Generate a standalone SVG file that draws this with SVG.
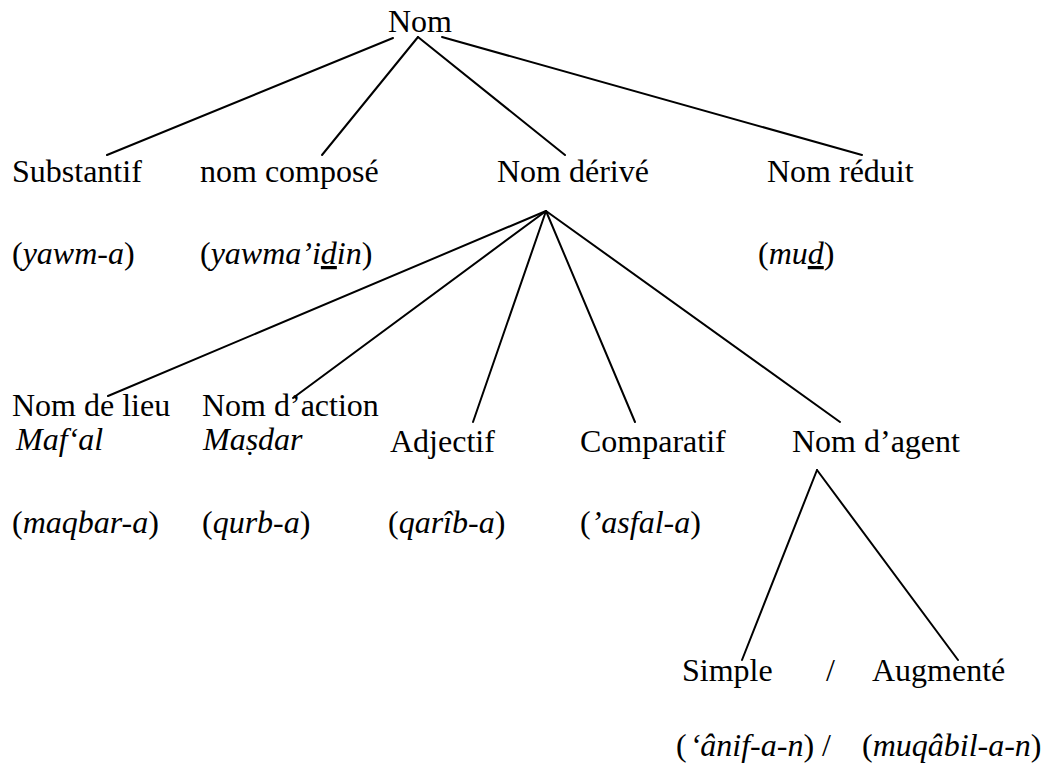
<svg xmlns="http://www.w3.org/2000/svg" width="1055" height="771" viewBox="0 0 1055 771">
<style>
text{font-family:'Liberation Serif','Times New Roman',Times,serif;font-size:32px;fill:#000}
.i{font-style:italic}
.u{text-decoration:underline}
.c line{stroke:#000;stroke-width:2;stroke-linecap:round}
</style>
<rect width="1055" height="771" fill="#fff"/>
<g class="c" id="connectors">
<line x1="393" y1="38" x2="107" y2="155"/>
<line x1="418" y1="37" x2="322" y2="155"/>
<line x1="418" y1="37" x2="565" y2="155"/>
<line x1="442" y1="37" x2="862" y2="155"/>
<line x1="546" y1="211" x2="108" y2="396"/>
<line x1="546" y1="211" x2="293" y2="398"/>
<line x1="546" y1="211" x2="473" y2="422"/>
<line x1="546" y1="211" x2="635" y2="422"/>
<line x1="546" y1="211" x2="840" y2="422"/>
<line x1="817" y1="470" x2="742" y2="660"/>
<line x1="817" y1="470" x2="958" y2="660"/>
</g>
<g font-family="Liberation Serif, serif">
<g id="nom"><text x="388" y="32">Nom</text></g>
<g id="substantif"><text x="12" y="182">Substantif</text><text x="12" y="264">(<tspan class="i">yawm-a</tspan>)</text></g>
<g id="nom-compose"><text x="200" y="182">nom composé</text><text x="200" y="264">(<tspan class="i">yawma’i</tspan><tspan class="i u">d</tspan><tspan class="i">in</tspan>)</text></g>
<g id="nom-derive"><text x="497" y="182">Nom dérivé</text></g>
<g id="nom-reduit"><text x="767" y="182">Nom réduit</text><text x="758" y="264">(<tspan class="i">mu</tspan><tspan class="i u">d</tspan>)</text></g>
<g id="nom-de-lieu"><text x="12" y="416">Nom de lieu</text><text class="i" x="16" y="450">Maf‘al</text><text x="12" y="533">(<tspan class="i">maqbar-a</tspan>)</text></g>
<g id="nom-daction"><text x="202" y="416">Nom d’action</text><text class="i" x="203" y="450">Maṣdar</text><text x="202" y="533">(<tspan class="i">qurb-a</tspan>)</text></g>
<g id="adjectif"><text x="390" y="452">Adjectif</text><text x="388" y="533">(<tspan class="i">qarîb-a</tspan>)</text></g>
<g id="comparatif"><text x="580" y="452">Comparatif</text><text x="580" y="533">(<tspan class="i">’asfal-a</tspan>)</text></g>
<g id="nom-dagent"><text x="792" y="452">Nom d’agent</text></g>
<g id="simple"><text x="682" y="681">Simple</text><text x="676" y="756">(<tspan class="i" dx="3">‘ânif-a-n</tspan>) /</text></g>
<g id="slash"><text x="826" y="681">/</text></g>
<g id="augmente"><text x="872" y="681">Augmenté</text><text x="862" y="756">(<tspan class="i">muqâbil-a-n</tspan>)</text></g>
</g>
</svg>
